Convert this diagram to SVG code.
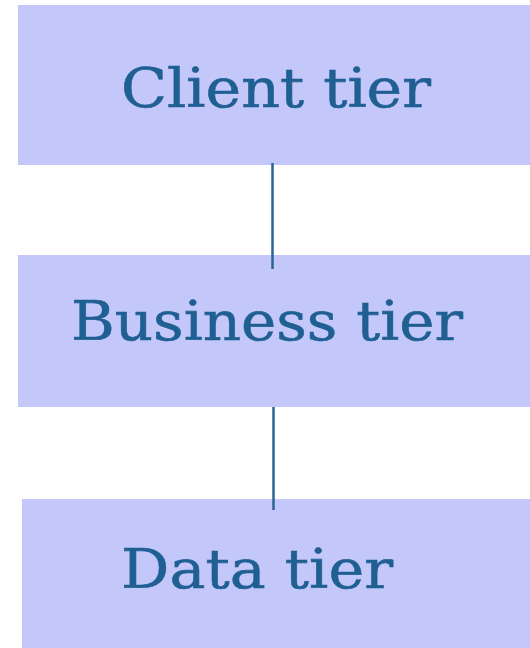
<svg xmlns="http://www.w3.org/2000/svg" width="530" height="648" viewBox="0 0 530 648">
<style>
.box{fill:#c4c7fa}
.lbl{font-family:"DejaVu Serif",serif;font-size:55px;fill:#1f5f92;stroke:#1f5f92;stroke-width:0.6}
.con{stroke:#2a6496;stroke-width:2.5;fill:none}
</style>
<rect width="530" height="648" fill="#ffffff"/>
<g id="client-tier">
<rect class="box" x="18" y="5" width="512" height="160"/>
<text class="lbl" x="121" y="107" textLength="310" lengthAdjust="spacingAndGlyphs">Client tier</text>
</g>
<g id="business-tier">
<rect class="box" x="18" y="255" width="512" height="152"/>
<text class="lbl" x="71" y="340" textLength="392" lengthAdjust="spacingAndGlyphs">Business tier</text>
</g>
<g id="data-tier">
<rect class="box" x="22" y="499" width="508" height="149"/>
<text class="lbl" x="121" y="588" textLength="272" lengthAdjust="spacingAndGlyphs">Data tier</text>
</g>
<g id="connectors">
<line class="con" x1="272.5" y1="163" x2="272.5" y2="269"/>
<line class="con" x1="273.5" y1="407" x2="273.5" y2="510"/>
</g>
</svg>
